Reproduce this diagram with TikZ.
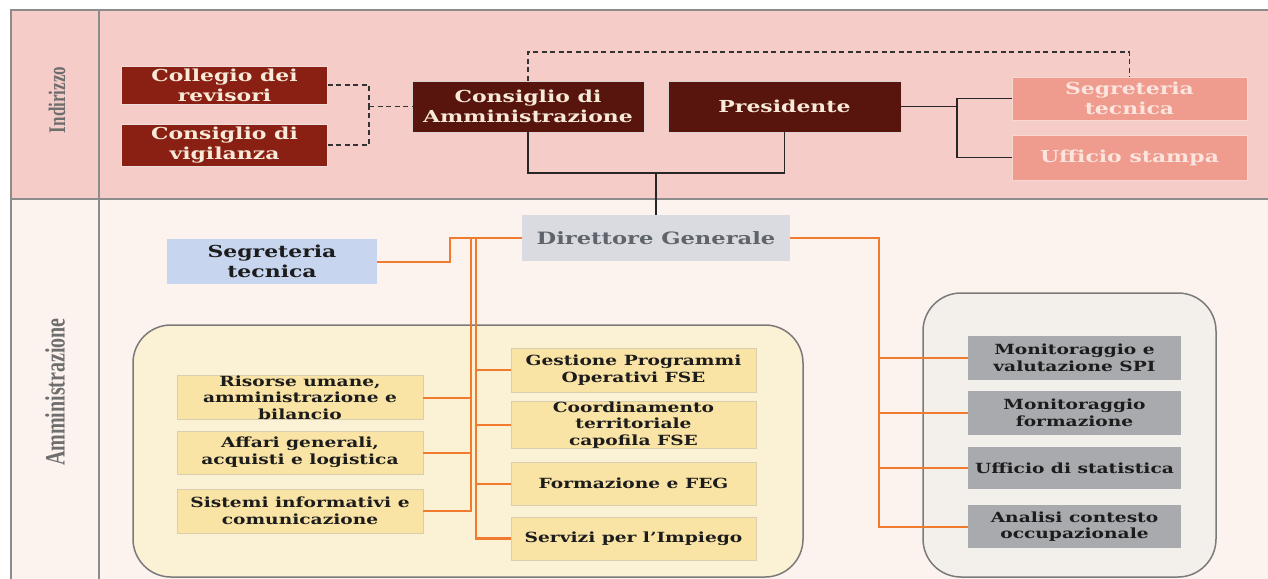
\documentclass[tikz,border=0pt]{standalone}
\usepackage{fontspec}
\setmainfont[FakeStretch=1.33]{DejaVu Serif}
\newfontfamily\labfont{Liberation Serif}
\usetikzlibrary{calc}
\definecolor{toprow}{HTML}{F5CCC8}
\definecolor{botrow}{HTML}{FCF3EE}
\definecolor{framec}{HTML}{8C8C8C}
\definecolor{darkred}{HTML}{8A1F14}
\definecolor{darkbrown}{HTML}{58150D}
\definecolor{cream}{HTML}{F8EAD8}
\definecolor{salmon}{HTML}{EF9B8D}
\definecolor{salmontext}{HTML}{FBE5DE}
\definecolor{dirfill}{HTML}{D9DBE0}
\definecolor{dirtext}{HTML}{5F636C}
\definecolor{bluefill}{HTML}{C7D6EE}
\definecolor{yelbox}{HTML}{FAE4A5}
\definecolor{yelborder}{HTML}{D9CFB0}
\definecolor{yelcont}{HTML}{FBF1D5}
\definecolor{graycont}{HTML}{F3F0EC}
\definecolor{graybox}{HTML}{A9AAAE}
\definecolor{orangec}{HTML}{F07B2E}
\definecolor{lblc}{HTML}{6E6E6E}
\definecolor{inkc}{HTML}{1C1C1C}
\definecolor{contborder}{HTML}{7A7A7A}
\begin{document}
\begin{tikzpicture}[x=1pt,y=-1pt,
  box/.style={inner sep=0pt, align=center, font=\bfseries},
  bigtxt/.style={font=\bfseries\fontsize{16.5}{20}\selectfont},
  smalltxt/.style={font=\bfseries\fontsize{14}{16.6}\selectfont},
  redbox/.style={box, bigtxt, fill=darkred, text=cream, draw=white!85!darkred, line width=0.8pt, minimum width=206pt},
  brownbox/.style={box, bigtxt, fill=darkbrown, text=cream, draw=white!80!darkbrown, line width=0.8pt, minimum width=232pt, minimum height=51pt},
  salbox/.style={box, bigtxt, fill=salmon, text=salmontext, draw=white!60!salmon, line width=0.8pt, minimum width=235pt},
  yelb/.style={box, smalltxt, fill=yelbox, text=inkc, draw=yelborder, line width=0.8pt, minimum width=246pt},
  grayb/.style={box, smalltxt, fill=graybox, text=inkc, minimum width=213pt},
  cont/.style={draw=contborder, line width=1.5pt, rounded corners=38pt},
  framel/.style={draw=framec, line width=2pt},
  dsh/.style={draw=black!80, line width=1.7pt, dash pattern=on 5pt off 3.5pt},
  blk/.style={draw=black!85, line width=1.8pt},
  org/.style={draw=orangec, line width=2pt},
  lbl/.style={rotate=90, text=lblc}
]
\useasboundingbox (0,0) rectangle (1268,578);
\begin{scope}
\clip (0,0) rectangle (1268,578);
\fill[toprow] (11,10) rectangle (1290,199);
\fill[botrow] (11,199) rectangle (1290,600);
\draw[framel] (1290,10) -- (11,10) -- (11,600);
\draw[framel] (99,10) -- (99,600);
\draw[framel] (11,199) -- (1290,199);
\draw[cont, fill=yelcont] (133,325) rectangle (803,577);
\draw[cont, fill=graycont] (923,293) rectangle (1216,577);
\end{scope}

% side labels
\node[lbl] (lind) at (57,100) {\scalebox{1}[1.4]{\labfont\bfseries\fontsize{17}{20}\selectfont Indirizzo}};
\node[lbl] (lamm) at (55,392) {\scalebox{1}[1.4]{\labfont\bfseries\fontsize{20}{24}\selectfont Amministrazione}};

% Indirizzo row
\node[redbox, minimum height=38pt] (coll) at (224.5,85) {Collegio dei\\revisori};
\node[redbox, minimum height=42pt] (vig) at (224.5,145) {Consiglio di\\vigilanza};
\node[brownbox] (cda) at (528,106.5) {Consiglio di\\Amministrazione};
\node[brownbox, minimum width=233pt] (pres) at (784.5,106.5) {Presidente};
\node[salbox, minimum height=43pt] (segt) at (1129.5,98.5) {Segreteria\\tecnica};
\node[salbox, minimum height=45pt] (ust) at (1129.5,157.5) {Ufficio stampa};

% Amministrazione row
\node[box, fill=dirfill, text=dirtext, font=\bfseries\fontsize{17}{20}\selectfont, minimum width=268pt, minimum height=46pt] (dir) at (656,238) {Direttore Generale};
\node[box, fill=bluefill, text=inkc, font=\bfseries\fontsize{16.5}{19.5}\selectfont, minimum width=210pt, minimum height=45pt] (blue) at (272,261.5) {Segreteria\\tecnica};

\node[yelb, minimum height=43pt] (ris) at (300,397.5) {Risorse umane,\\amministrazione e\\bilancio};
\node[yelb, minimum height=43pt] (aff) at (300,452.5) {Affari generali,\\acquisti e logistica};
\node[yelb, minimum height=44pt] (sis) at (300,511) {Sistemi informativi e\\comunicazione};

\node[yelb, minimum width=245pt, minimum height=44pt] (gest) at (633.5,370) {Gestione Programmi\\Operativi FSE};
\node[yelb, minimum width=245pt, minimum height=44pt] (coord) at (633.5,425) {Coordinamento\\territoriale\\capofila FSE};
\node[yelb, minimum width=245pt, minimum height=43pt] (form) at (633.5,483.5) {Formazione e FEG};
\node[yelb, minimum width=245pt, minimum height=43pt] (serv) at (633.5,538.5) {Servizi per l’Impiego};

\node[grayb, minimum height=44pt] (mon) at (1074.5,358) {Monitoraggio e\\valutazione SPI};
\node[grayb, minimum height=44pt] (monf) at (1074.5,413) {Monitoraggio\\formazione};
\node[grayb, minimum height=42pt] (stat) at (1074.5,468) {Ufficio di statistica};
\node[grayb, minimum height=43pt] (ana) at (1074.5,526.5) {Analisi contesto\\occupazionale};

% dashed connectors
\coordinate (dj) at (369,106.5);
\draw[dsh] (coll.east) -| (dj);
\draw[dsh] (vig.east) -| (dj);
\draw[dsh] (dj) -- (cda.west);
\coordinate (dtop) at (528,52);
\draw[dsh] (cda.north) -- (dtop) -| (segt.north);

% solid black connectors
\coordinate (jm) at (656,173);
\draw[blk] (cda.south) |- (jm) -| (pres.south);
\draw[blk] (jm) -- (dir.north);
\coordinate (pj) at (957,106.5);
\draw[blk] (pres.east) -- (pj);
\draw[blk] (segt.west) -| (pj);
\draw[blk] (ust.west) -| (pj);

% orange connectors
\coordinate (bj) at (450,238);
\draw[org] (blue.east) -| (bj) -- (dir.west);
\coordinate (lbt) at (471,238);
\coordinate (rbt) at (476,238);
\draw[org, line width=2.4pt] (lbt) |- (sis.east);
\draw[org] (ris.east) -- (ris.east -| lbt);
\draw[org] (aff.east) -- (aff.east -| lbt);
\draw[org, line width=2.4pt] (rbt) |- (serv.west);
\draw[org] (rbt |- gest.west) -- (gest.west);
\draw[org] (rbt |- coord.west) -- (coord.west);
\draw[org] (rbt |- form.west) -- (form.west);
\coordinate (rj) at (879,238);
\draw[org] (dir.east) -- (rj) |- (ana.west);
\draw[org] (rj |- mon.west) -- (mon.west);
\draw[org] (rj |- monf.west) -- (monf.west);
\draw[org] (rj |- stat.west) -- (stat.west);
\end{tikzpicture}
\end{document}
